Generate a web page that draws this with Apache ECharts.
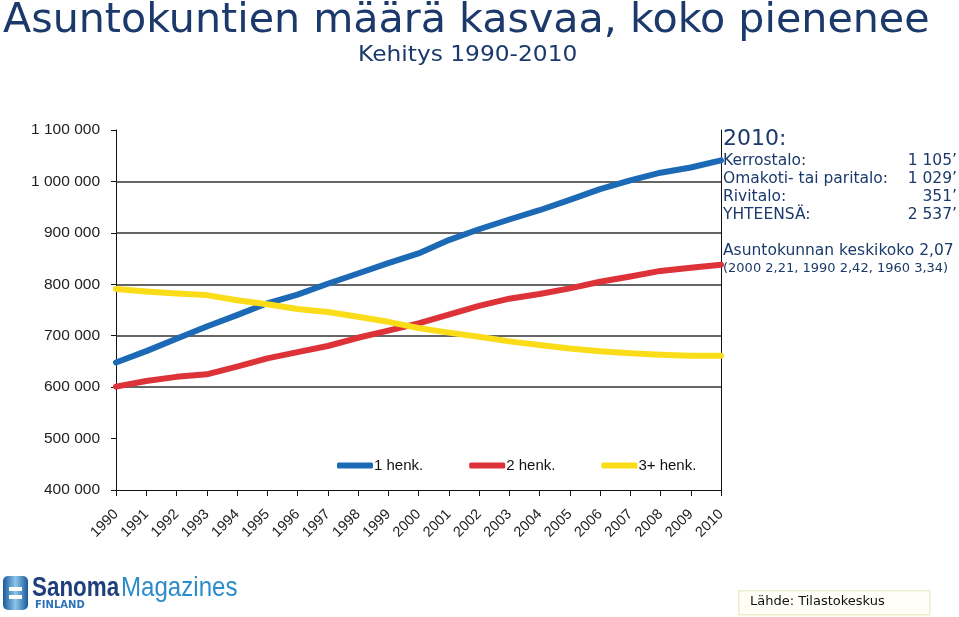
<!DOCTYPE html>
<html>
<head>
<meta charset="utf-8">
<script src="https://cdn.jsdelivr.net/npm/echarts@6/dist/echarts.min.js"></script>
<style>
html,body{margin:0;padding:0;background:#fff;}
#chart{width:959px;height:617px;}
</style>
</head>
<body>
<div id="chart"></div>
<script>
var years = ['1990','1991','1992','1993','1994','1995','1996','1997','1998','1999','2000','2001','2002','2003','2004','2005','2006','2007','2008','2009','2010'];
var henk1 = [648000,670000,694000,718000,740000,763000,780000,801000,821000,841000,860000,886000,907000,926000,944000,964000,985000,1002000,1017000,1027000,1041000];
var henk2 = [601000,612000,620000,625000,640000,656000,668000,680000,696000,710000,724000,741000,758000,772000,781000,792000,805000,815000,826000,832000,838000];
var henk3 = [791000,786000,782000,779000,769000,761000,752000,746000,737000,727000,715000,706000,698000,689000,682000,675000,670000,666000,663000,661000,661000];
var seriesNames = ['1 henk.','2 henk.','3+ henk.'];
var gridValues = [600000,700000,800000,900000,1000000];
var infoLabels = ['Kerrostalo:','Omakoti- tai paritalo:','Rivitalo:','YHTEENSÄ:'];
var infoValues = ['1 105’','1 029’','351’','2 537’'];

var navy = '#1b3a6b';
var fmt = function(v){ return String(v).replace(/\B(?=(\d{3})+(?!\d))/g,' '); };
var chart = echarts.init(document.getElementById('chart'));
var lineSeries = function(name, data, color){
  return {name:name,type:'line',data:data,z:10,showSymbol:false,symbol:'none',
    lineStyle:{width:6,color:color,cap:'round',join:'round'},itemStyle:{color:color},
    animation:false};
};
var infoFont = '15.5px "DejaVu Sans", sans-serif';
var graphics = [
  {type:'text',left:3,top:2,scaleX:1.03,style:{text:'Asuntokuntien määrä kasvaa, koko pienenee',
    font:'40px "DejaVu Sans", sans-serif',fill:navy}},
  {type:'text',left:358,top:44,scaleX:1.06,style:{text:'Kehitys 1990-2010',
    font:'22px "DejaVu Sans", sans-serif',fill:navy}},
  {type:'text',left:723,top:128,style:{text:'2010:',font:'22px "DejaVu Sans", sans-serif',fill:navy}},
  {type:'text',left:723,top:243,style:{text:'Asuntokunnan keskikoko 2,07',
    font:'15.5px "DejaVu Sans", sans-serif',fill:navy}},
  {type:'text',left:723,top:262,style:{text:'(2000 2,21, 1990 2,42, 1960 3,34)',
    font:'13px "DejaVu Sans", sans-serif',fill:navy}},
  {type:'rect',left:738,top:590,shape:{width:191,height:24},
    style:{fill:'#fffff8',stroke:'#eeeecc',lineWidth:1.5}},
  {type:'text',left:750,top:595,style:{text:'Lähde: Tilastokeskus',font:'13px "DejaVu Sans", sans-serif',fill:'#111'}},
  {type:'rect',left:3,top:576,shape:{width:25,height:34,r:5},
    style:{fill:new echarts.graphic.LinearGradient(0,0,1,0,[{offset:0,color:'#1a5a9a'},{offset:0.5,color:'#8cc4ea'},{offset:1,color:'#1a5a9a'}])}},
  {type:'rect',left:9,top:587,shape:{width:13,height:4},style:{fill:'#ffffff'}},
  {type:'rect',left:9,top:595,shape:{width:13,height:4},style:{fill:'#ffffff'}},
  {type:'text',left:32,top:574,scaleX:0.8,style:{text:'Sanoma',font:'bold 28px "Liberation Sans", sans-serif',fill:'#1f3f7c'}},
  {type:'text',left:121,top:574,scaleX:0.86,style:{text:'Magazines',font:'28px "Liberation Sans", sans-serif',fill:'#2b8ccc'}},
  {type:'text',left:35,top:600,style:{text:'FINLAND',font:'bold 10px "DejaVu Sans", sans-serif',fill:'#2b70b8'}}
];
infoLabels.forEach(function(t,i){
  graphics.push({type:'text',left:723,top:153+i*18,style:{text:t,font:infoFont,fill:navy}});
  graphics.push({type:'text',right:2,top:153+i*18,style:{text:infoValues[i],font:infoFont,fill:navy}});
});
chart.setOption({
  animation:false,
  grid:{left:116,right:238,top:130,bottom:127,containLabel:false},
  legend:{left:337,top:458,padding:0,icon:'roundRect',itemWidth:36,itemHeight:6,itemGap:46,
    textStyle:{fontFamily:'Liberation Sans, Arial, sans-serif',fontSize:15,color:'#111',padding:[0,0,0,-4]},
    data:seriesNames},
  xAxis:{type:'category',data:years,boundaryGap:false,
    axisLine:{lineStyle:{color:'#111',width:1}},
    axisTick:{show:true,length:6,lineStyle:{color:'#111'}},
    axisLabel:{rotate:45,margin:22,fontFamily:'Liberation Sans, Arial, sans-serif',fontSize:14.5,color:'#222',interval:0},
    splitLine:{show:false}},
  yAxis:[{type:'value',min:400000,max:1100000,interval:100000,
    axisLine:{show:true,lineStyle:{color:'#111',width:1}},
    axisTick:{show:true,length:5,lineStyle:{color:'#111'}},
    axisLabel:{margin:16,formatter:fmt,fontFamily:'Liberation Sans, Arial, sans-serif',fontSize:15.5,color:'#222'},
    splitLine:{show:false}},
   {type:'value',min:400000,max:1100000,interval:100000,position:'right',
    axisLine:{show:true,lineStyle:{color:'#111',width:1}},
    axisTick:{show:false},axisLabel:{show:false},splitLine:{show:false}}],
  series:[
    {type:'line',data:[],silent:true,z:1,
      markLine:{silent:true,symbol:['none','none'],z:1,label:{show:false},
        lineStyle:{color:'#333',width:1.5,type:'solid'},
        data:gridValues.map(function(v){return {yAxis:v};})}},
    lineSeries(seriesNames[0],henk1,'#1c6ab5'),
    lineSeries(seriesNames[1],henk2,'#dc3238'),
    lineSeries(seriesNames[2],henk3,'#fbdc18')
  ],
  graphic:graphics
});
</script>
</body>
</html>
